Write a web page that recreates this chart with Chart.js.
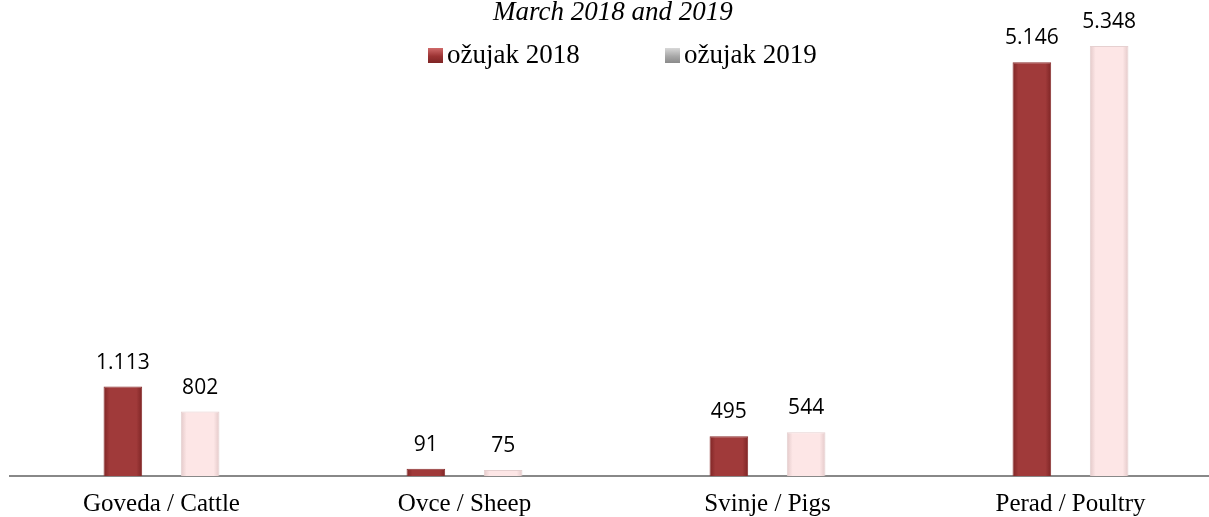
<!DOCTYPE html>
<html>
<head>
<meta charset="utf-8">
<script src="https://cdn.jsdelivr.net/npm/chart.js@4/dist/chart.umd.min.js"></script>
<style>
  html, body { margin: 0; padding: 0; background: #fff; overflow: hidden; }
  #wrap { position: relative; width: 1209px; height: 517px; overflow: hidden; }
  #box { position: absolute; left: 0; top: 0; width: 1222px; height: 517px; }
  .title { position: absolute; left: 493px; top: -2px; font: italic 27px "Liberation Serif", serif; line-height: 27px; color: #000; white-space: nowrap; }
  .leg { position: absolute; top: 41px; font: 27px "Liberation Serif", serif; line-height: 27px; color: #000; white-space: nowrap; }
  .leg i { position: absolute; left: -19px; top: 7px; width: 15px; height: 15px; }
</style>
</head>
<body>
<div id="wrap">
  <div id="box"><canvas id="chart"></canvas></div>
  <div class="title">March 2018 and 2019</div>
  <div id="legend"></div>
</div>
<script>
const categories = ['Goveda / Cattle', 'Ovce / Sheep', 'Svinje / Pigs', 'Perad / Poultry'];
const seriesNames = ['ožujak 2018', 'ožujak 2019'];
const values2018 = [1113, 91, 495, 5146];
const values2019 = [802, 75, 544, 5348];

// bevel-ish horizontal shading per bar
function shade(edge, mid) {
  return (c) => {
    const chart = c.chart;
    const xs = chart.scales.x;
    if (!xs || c.dataIndex === undefined || !isFinite(xs.width) || !xs.width) return mid;
    const cw = xs.width / categories.length;
    const slot = cw * 0.51 / 2;
    const cx = xs.getPixelForValue(c.dataIndex) + (c.datasetIndex === 0 ? -slot / 2 : slot / 2);
    const w = slot * 0.5;
    if (!isFinite(cx)) return mid;
    const g = chart.ctx.createLinearGradient(cx - w / 2, 0, cx + w / 2, 0);
    g.addColorStop(0, edge);
    g.addColorStop(0.15, mid);
    g.addColorStop(0.85, mid);
    g.addColorStop(1, edge);
    return g;
  };
}

const fmt = (v) => String(v).replace(/\B(?=(\d{3})+(?!\d))/g, '.');

const valueLabels = {
  id: 'valueLabels',
  afterDatasetsDraw(chart) {
    const ctx = chart.ctx;
    ctx.save();
    ctx.font = '21px "Open Sans", sans-serif';
    ctx.fillStyle = '#000';
    ctx.textAlign = 'center';
    ctx.textBaseline = 'alphabetic';
    chart.data.datasets.forEach((ds, i) => {
      chart.getDatasetMeta(i).data.forEach((el, j) => {
        ctx.fillText(fmt(ds.data[j]), el.x, el.y - 18);
      });
    });
    ctx.restore();
  }
};

const chart = new Chart(document.getElementById('chart'), {
  type: 'bar',
  data: {
    labels: categories,
    datasets: [
      {
        label: seriesNames[0],
        data: values2018,
        backgroundColor: shade('#7e2525', '#a03a3a'),
        borderColor: '#8a2f2f',
        borderWidth: 1,
        categoryPercentage: 0.51,
        barPercentage: 0.5
      },
      {
        label: seriesNames[1],
        data: values2019,
        backgroundColor: shade('#e3c9c9', '#fde6e6'),
        borderColor: '#e6d0d0',
        borderWidth: 1,
        categoryPercentage: 0.51,
        barPercentage: 0.5
      }
    ]
  },
  options: {
    responsive: true,
    maintainAspectRatio: false,
    animation: false,
    layout: { padding: { left: 10, right: 0, top: 0, bottom: 0 } },
    plugins: {
      legend: { display: false },
      title: { display: false },
      tooltip: { enabled: false }
    },
    scales: {
      x: {
        grid: { display: false, drawTicks: false },
        border: { display: true, color: '#888', width: 2 },
        ticks: {
          color: '#000',
          padding: 13,
          font: { family: '"Liberation Serif", serif', size: 25 }
        },
        afterFit(scale) { scale.height = 41; }
      },
      y: {
        display: false,
        min: 0,
        max: 5920
      }
    }
  },
  plugins: [valueLabels]
});
chart.update();

// legend as real text, built from the dataset names
const legendPos = [447, 684];
const legendSwatch = [
  'linear-gradient(#d06a6a, #9b3333 55%, #7e2525)',
  'linear-gradient(#d8d8d8, #a8a8a8 55%, #8a8a8a)'
];
const legendEl = document.getElementById('legend');
seriesNames.forEach((name, i) => {
  const d = document.createElement('div');
  d.className = 'leg';
  d.style.left = legendPos[i] + 'px';
  d.innerHTML = '<i style="background:' + legendSwatch[i] + '"></i>' + name;
  legendEl.appendChild(d);
});
</script>
</body>
</html>
